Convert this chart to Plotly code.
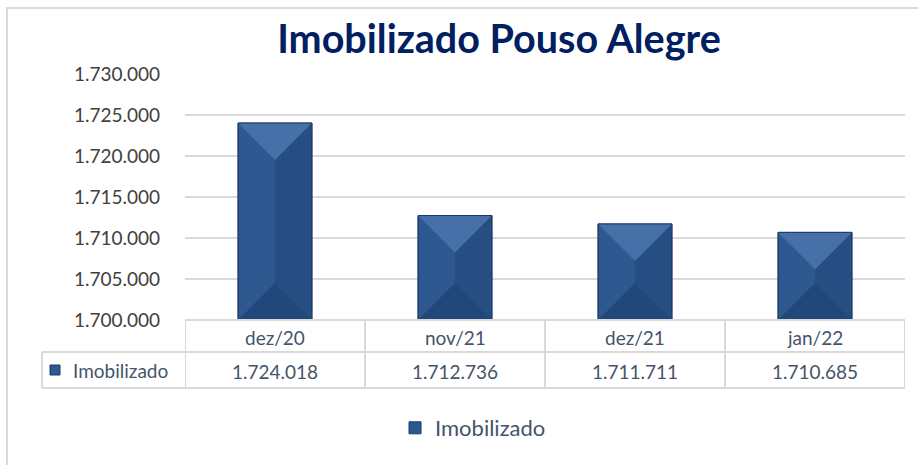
import plotly.graph_objects as go

categories = ["dez/20", "nov/21", "dez/21", "jan/22"]
values = [1724018, 1712736, 1711711, 1710685]
series_name = "Imobilizado"
title_text = "Imobilizado Pouso Alegre"
y_min, y_max, y_step = 1700000, 1730000, 5000

W, H = 918, 465
L, R, T, B = 185, 13, 74, 145
plot_w = W - L - R
plot_h = H - T - B
n = len(categories)
px_per_x = plot_w / n
data_per_px = (y_max - y_min) / plot_h

FONT = "Lato"
TXT = "#44546A"
GRID = "#D9D9D9"

def fmt(v):
    return f"{v:,}".replace(",", ".")

xs = list(range(n))
bw = 0.41
hw = bw / 2
d = hw * px_per_x * data_per_px  # 45 degree bevel depth in data units

fig = go.Figure()
fig.add_trace(go.Bar(
    x=xs, y=values, width=bw, name=series_name,
    marker=dict(color="#2D5890", line=dict(color="#1B3A66", width=1)),
    hoverinfo="skip", showlegend=True,
))

top_x, top_y, bot_x, bot_y, rgt_x, rgt_y = [], [], [], [], [], []
out_x, out_y = [], []
for i, v in enumerate(values):
    base = y_min
    mid = (v + base) / 2
    ta = max(v - d, mid)
    ba = min(base + d, mid)
    top_x += [i - hw, i + hw, i, i - hw, None]
    top_y += [v, v, ta, v, None]
    bot_x += [i - hw, i + hw, i, i - hw, None]
    bot_y += [base, base, ba, base, None]
    rgt_x += [i + hw, i + hw, i, i, i + hw, None]
    rgt_y += [v, base, ba, ta, v, None]
    out_x += [i - hw, i + hw, i + hw, i - hw, i - hw, None]
    out_y += [v, v, base, base, v, None]

for fx, fy, col in [(rgt_x, rgt_y, "#264E82"), (top_x, top_y, "#4571A8"), (bot_x, bot_y, "#22477B")]:
    fig.add_trace(go.Scatter(x=fx, y=fy, mode="lines", fill="toself", fillcolor=col,
                             line=dict(width=0, color=col), hoverinfo="skip", showlegend=False))
fig.add_trace(go.Scatter(x=out_x, y=out_y, mode="lines", line=dict(width=1, color="#1B3A66"),
                         hoverinfo="skip", showlegend=False))

def py2paper(py):
    return (H - B - py) / plot_h

def px2paper(px):
    return (px - L) / plot_w

shapes = []
# outer border
shapes.append(dict(type="rect", xref="paper", yref="paper",
                   x0=px2paper(7), x1=px2paper(W + 10), y0=py2paper(H + 10), y1=py2paper(8),
                   line=dict(color=GRID, width=2), fillcolor="rgba(0,0,0,0)", layer="below"))
row_top = py2paper(320)
row_mid = py2paper(352)
row_bot = py2paper(388)
left_x = px2paper(42)
# horizontal lines of table
shapes.append(dict(type="line", xref="x", yref="paper", x0=-0.5, x1=n - 0.5, y0=row_top, y1=row_top,
                   line=dict(color=GRID, width=2)))
shapes.append(dict(type="line", xref="paper", yref="paper", x0=left_x, x1=1, y0=row_mid, y1=row_mid,
                   line=dict(color=GRID, width=2)))
shapes.append(dict(type="line", xref="paper", yref="paper", x0=left_x, x1=1, y0=row_bot, y1=row_bot,
                   line=dict(color=GRID, width=2)))
shapes.append(dict(type="line", xref="paper", yref="paper", x0=left_x, x1=left_x, y0=row_mid, y1=row_bot,
                   line=dict(color=GRID, width=2)))
for k in range(n + 1):
    shapes.append(dict(type="line", xref="x", yref="paper", x0=k - 0.5, x1=k - 0.5, y0=row_top, y1=row_bot,
                       line=dict(color=GRID, width=2)))
# small legend key in table
shapes.append(dict(type="rect", xref="paper", yref="paper",
                   x0=px2paper(50), x1=px2paper(60), y0=py2paper(375), y1=py2paper(365),
                   fillcolor="#2D5890", line=dict(color="#1B3A66", width=1)))

annotations = []
for i, (c, v) in enumerate(zip(categories, values)):
    annotations.append(dict(x=i, y=py2paper(337), xref="x", yref="paper", text=c,
                            showarrow=False, yanchor="middle", font=dict(family=FONT, size=19, color=TXT)))
    annotations.append(dict(x=i, y=py2paper(371), xref="x", yref="paper", text=fmt(v),
                            showarrow=False, yanchor="middle", font=dict(family=FONT, size=19, color=TXT)))
annotations.append(dict(x=px2paper(71), y=py2paper(370), xref="paper", yref="paper",
                        text=series_name, xanchor="left", yanchor="middle", showarrow=False,
                        font=dict(family=FONT, size=19, color=TXT)))

fig.update_layout(
    width=W, height=H,
    margin=dict(l=L, r=R, t=T, b=B, autoexpand=False),
    paper_bgcolor="white", plot_bgcolor="white",
    separators=",.",
    title=dict(text=f"<b>{title_text}</b>", x=499 / W, xref="container", xanchor="center",
               y=1 - 39 / H, yref="container", yanchor="middle",
               font=dict(family=FONT, size=39.5, color="#002060")),
    xaxis=dict(range=[-0.5, n - 0.5], showticklabels=False, showgrid=False, zeroline=False,
               showline=False, fixedrange=True),
    yaxis=dict(range=[y_min, y_max], dtick=y_step, tick0=y_min, tickformat=",d",
               showgrid=True, gridcolor=GRID, gridwidth=2, zeroline=False, showline=False,
               ticks="", ticklabelstandoff=24,
               tickfont=dict(family=FONT, size=19, color="#404040")),
    showlegend=True,
    legend=dict(orientation="h", x=px2paper(473), xanchor="center", y=py2paper(428), yanchor="middle",
                font=dict(family=FONT, size=22, color=TXT), itemwidth=30),
    shapes=shapes, annotations=annotations,
    bargap=0.59,
)

fig.write_html("out.html", config={"displayModeBar": False},
               post_script="document.body.style.margin='0';document.body.style.overflow='hidden';")
